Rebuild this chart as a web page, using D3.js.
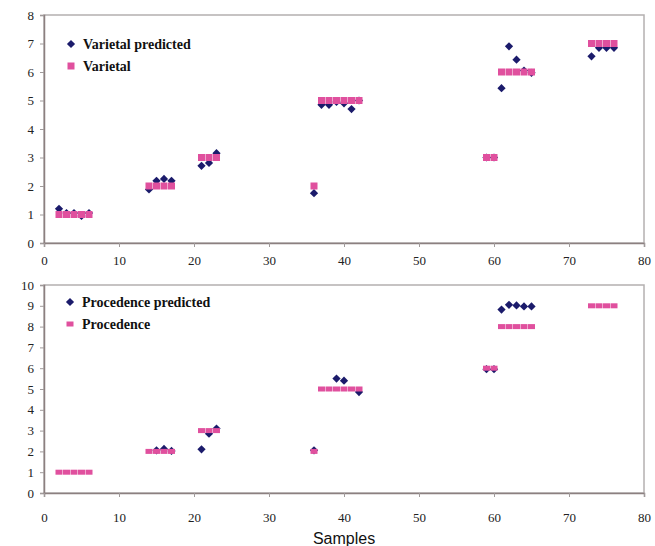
<!DOCTYPE html>
<html>
<head>
<meta charset="utf-8">
<script src="https://cdn.jsdelivr.net/npm/d3@7"></script>
<style>
  body { margin: 0; background: #fff; }
</style>
</head>
<body>
<div id="chart"></div>
<script>
// top panel: varietal
const varSamples = [2, 3, 4, 5, 6, 14, 15, 16, 17, 21, 22, 23, 36, 37, 38, 39, 40, 41, 42, 59, 60, 61, 62, 63, 64, 65, 73, 74, 75, 76];
const varietal = [1, 1, 1, 1, 1, 2, 2, 2, 2, 3, 3, 3, 2, 5, 5, 5, 5, 5, 5, 3, 3, 6, 6, 6, 6, 6, 7, 7, 7, 7];
const varPredSamples = varSamples;
const varPredicted = [1.2, 1.05, 1.05, 0.95, 1.05, 1.88, 2.18, 2.25, 2.18, 2.71, 2.81, 3.15, 1.75, 4.85, 4.85, 4.95, 4.9, 4.7, 5.0, 3.0, 3.0, 5.43, 6.9, 6.43, 6.05, 5.97, 6.55, 6.85, 6.85, 6.85];

// bottom panel: procedence
const procSamples = [2, 3, 4, 5, 6, 14, 15, 16, 17, 21, 22, 23, 36, 37, 38, 39, 40, 41, 42, 59, 60, 61, 62, 63, 64, 65, 73, 74, 75, 76];
const procedence = [1, 1, 1, 1, 1, 2, 2, 2, 2, 3, 3, 3, 2, 5, 5, 5, 5, 5, 5, 6, 6, 8, 8, 8, 8, 8, 9, 9, 9, 9];
// predicted markers that show outside the class marks
const procPredSamples = [15, 16, 17, 21, 22, 23, 36, 39, 40, 42, 59, 60, 61, 62, 63, 64, 65];
const procPredicted = [2.05, 2.12, 2.02, 2.1, 2.85, 3.1, 2.05, 5.5, 5.4, 4.85, 5.95, 5.95, 8.82, 9.05, 9.02, 8.97, 8.97];

const xTicks = [0, 10, 20, 30, 40, 50, 60, 70, 80];

const navy = '#1b1b6b';
const pink = '#e0509e';
const serif = '"Liberation Serif", "Times New Roman", serif';

const svg = d3.select('#chart').append('svg')
  .attr('width', 655)
  .attr('height', 546);

const x = d3.scaleLinear().domain([0, 80]).range([44, 644]);

function panel(opts) {
  const y = d3.scaleLinear().domain([0, opts.ymax]).range([opts.bottom, opts.top]);
  const g = svg.append('g');

  // frame
  g.append('rect')
    .attr('x', x(0)).attr('y', opts.top)
    .attr('width', x(80) - x(0)).attr('height', opts.bottom - opts.top)
    .attr('fill', 'none').attr('stroke', '#b4b0b0').attr('stroke-width', 1.5);

  // axes
  const yAxis = g.append('g')
    .attr('transform', `translate(${x(0)},0)`)
    .call(d3.axisLeft(y).ticks(opts.ymax).tickSize(4).tickPadding(6).tickFormat(d3.format('d')));
  const xAxis = g.append('g')
    .attr('transform', `translate(0,${opts.bottom})`)
    .call(d3.axisBottom(x).tickValues(xTicks).tickSize(4).tickPadding(opts.xpad).tickFormat(d3.format('d')));
  [xAxis, yAxis].forEach(a => {
    a.select('.domain').attr('stroke', '#8c8080').attr('stroke-width', 1.5);
    a.selectAll('.tick line').attr('stroke', '#a09a9a');
    a.selectAll('text')
      .attr('font-family', serif)
      .attr('font-size', 13)
      .attr('fill', '#222');
  });

  // predicted markers
  g.selectAll('.pred')
    .data(opts.predSamples.map((s, i) => ({ s, v: opts.predicted[i] })))
    .enter().append('path')
    .attr('d', d3.symbol(d3.symbolSquare, 34))
    .attr('transform', d => `translate(${x(d.s)},${y(d.v)}) rotate(45)`)
    .attr('fill', navy);

  // actual class markers (drawn on top)
  g.selectAll('.act')
    .data(opts.samples.map((s, i) => ({ s, v: opts.actual[i] })))
    .enter().append('rect')
    .attr('x', d => x(d.s) - opts.mw / 2)
    .attr('y', d => y(d.v) - opts.mh / 2)
    .attr('width', opts.mw)
    .attr('height', opts.mh)
    .attr('fill', pink);

  // legend
  const lg = g.append('g');
  lg.append('path')
    .attr('d', d3.symbol(d3.symbolSquare, 34))
    .attr('transform', `translate(${opts.lx},${opts.ly}) rotate(45)`)
    .attr('fill', navy);
  lg.append('rect')
    .attr('x', opts.lx - opts.mw / 2).attr('y', opts.ly + 22 - opts.mh / 2)
    .attr('width', opts.mw).attr('height', opts.mh)
    .attr('fill', pink);
  lg.append('text')
    .attr('x', opts.lx + 12).attr('y', opts.ly + 5)
    .attr('font-family', serif)
    .attr('font-size', 14).attr('font-weight', 'bold').attr('fill', '#111')
    .text(opts.names[0]);
  lg.append('text')
    .attr('x', opts.lx + 12).attr('y', opts.ly + 27)
    .attr('font-family', serif)
    .attr('font-size', 14).attr('font-weight', 'bold').attr('fill', '#111')
    .text(opts.names[1]);
}

panel({
  top: 15, bottom: 243, ymax: 8, xpad: 9,
  samples: varSamples, actual: varietal,
  predSamples: varPredSamples, predicted: varPredicted,
  mw: 7, mh: 7,
  lx: 71, ly: 44,
  names: ['Varietal predicted', 'Varietal']
});

panel({
  top: 285, bottom: 493, ymax: 10, xpad: 16,
  samples: procSamples, actual: procedence,
  predSamples: procPredSamples, predicted: procPredicted,
  mw: 7, mh: 5,
  lx: 70, ly: 302,
  names: ['Procedence predicted', 'Procedence']
});

svg.append('text')
  .attr('x', 344).attr('y', 544)
  .attr('text-anchor', 'middle')
  .attr('font-family', '"Liberation Sans", Arial, sans-serif')
  .attr('font-size', 16)
  .attr('fill', '#111')
  .text('Samples');
</script>
</body>
</html>
